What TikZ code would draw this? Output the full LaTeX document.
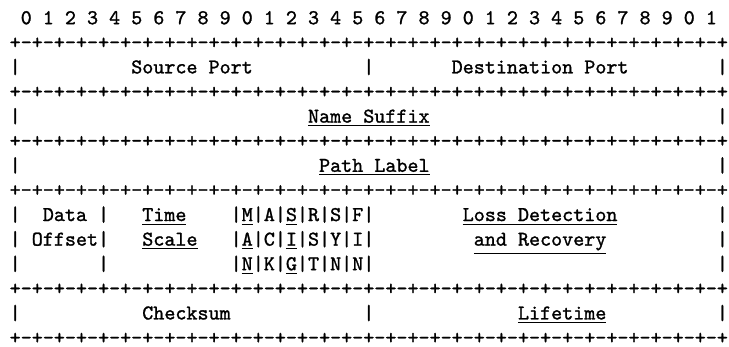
\documentclass[tikz,border=0pt]{standalone}
\usepackage{fontspec}
\newfontfamily\ttheavy{lmmono10-regular}[Extension=.otf, BoldFont=lmmono10-regular, BoldFeatures={FakeBold=1.2}]
\newcommand\brdrow{+-+-+-+-+-+-+-+-+-+-+-+-+-+-+-+-+-+-+-+-+-+-+-+-+-+-+-+-+-+-+-+-+}
\tikzset{
  tt/.style={anchor=base west, inner sep=0pt, outer sep=0pt,
    font=\ttheavy\bfseries\fontsize{10}{12}\selectfont, text=black},
}
% column -> x, row -> baseline y
\newcommand\fld[4]{\node[tt] (#1) at ({4.6pt+#2*5.25pt},{-11.5pt-#3*11.69pt}) {#4};}
\begin{document}
\begin{tikzpicture}
\fill[white] (0,0) rectangle (346.35pt,-164.86pt);
\useasboundingbox (0,0) rectangle (346.35pt,-164.86pt);
% bit numbers
\foreach \i in {0,...,31}{
  \pgfmathtruncatemacro\dg{mod(\i,10)}
  \node[tt] (bit\i) at ({4.6pt+(1+2*\i)*5.25pt},-11.5pt) {\dg};
}
% border rows
\fld{r1}{0}{1}{\brdrow}
\fld{r3}{0}{3}{\brdrow}
\fld{r5}{0}{5}{\brdrow}
\fld{r7}{0}{7}{\brdrow}
\fld{r11}{0}{11}{\brdrow}
\fld{r13}{0}{13}{\brdrow}
% row 2
\fld{l2}{0}{2}{|}
\fld{src}{11}{2}{Source Port}
\fld{m2}{32}{2}{|}
\fld{dst}{40}{2}{Destination Port}
\fld{e2}{64}{2}{|}
% row 4
\fld{l4}{0}{4}{|}
\fld{name}{27}{4}{\underline{Name Suffix}}
\fld{e4}{64}{4}{|}
% row 6
\fld{l6}{0}{6}{|}
\fld{path}{28}{6}{\underline{Path Label}}
\fld{e6}{64}{6}{|}
% row 8
\fld{l8}{0}{8}{|}
\fld{data}{3}{8}{Data}
\fld{a8}{8}{8}{|}
\fld{time}{12}{8}{\underline{Time}}
\fld{flags1}{20}{8}{|\underline{M}|A|\underline{S}|R|S|F|}
\fld{loss}{41}{8}{\underline{Loss Detection}}
\fld{e8}{64}{8}{|}
% row 9
\fld{l9}{0}{9}{|}
\fld{offset}{2}{9}{Offset}
\fld{a9}{8}{9}{|}
\fld{scale}{12}{9}{\underline{Scale}}
\fld{flags2}{20}{9}{|\underline{A}|C|\underline{I}|S|Y|I|}
\fld{recov}{42}{9}{\underline{and Recovery}}
\fld{e9}{64}{9}{|}
% row 10
\fld{l10}{0}{10}{|}
\fld{a10}{8}{10}{|}
\fld{flags3}{20}{10}{|\underline{N}|K|\underline{G}|T|N|N|}
\fld{e10}{64}{10}{|}
% row 12
\fld{l12}{0}{12}{|}
\fld{cks}{12}{12}{Checksum}
\fld{m12}{32}{12}{|}
\fld{life}{46}{12}{\underline{Lifetime}}
\fld{e12}{64}{12}{|}
\end{tikzpicture}
\end{document}
